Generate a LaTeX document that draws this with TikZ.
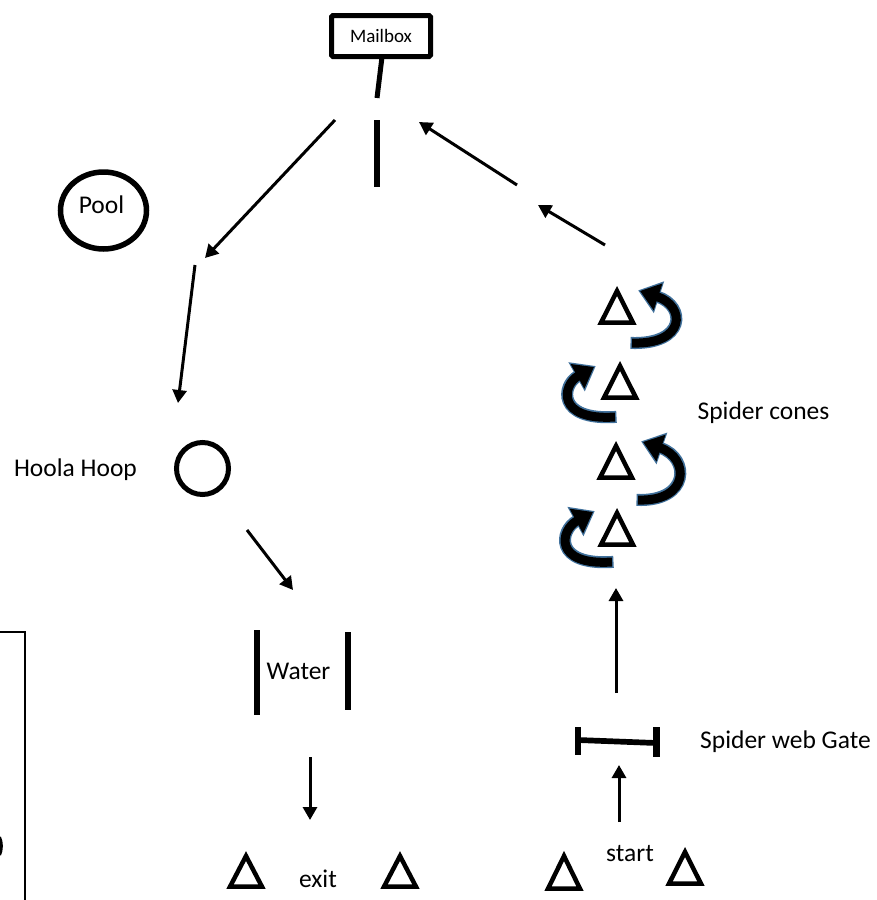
\documentclass[tikz,border=0pt]{standalone}
\usepackage{fontspec}
\setmainfont{Carlito}
\usetikzlibrary{arrows.meta,shapes.geometric}
\definecolor{outlineblue}{RGB}{65,113,156}
\newcommand\conetri[3]{\draw[conestyle] (#1,#2+6) -- (#1+16,#3-2.3) -- (#1-16,#3-2.3) -- cycle;}
\begin{document}
\begin{tikzpicture}[x=1pt,y=-1pt,
  flow/.style={line width=3pt,-{Triangle[length=13pt,width=14pt]}},
  barline/.style={line width=6pt},
  conestyle/.style={line width=4.5pt,line join=miter},
  lbl/.style={font=\fontsize{25.5}{30}\selectfont, inner sep=0pt, anchor=base},
  twirlout/.style={draw=outlineblue, line width=12pt, -{Triangle[length=22pt,width=32pt]}, shorten >=-2pt, shorten <=-1.5pt},
  twirlin/.style={draw=black, line width=9pt, -{Triangle[length=19pt,width=27pt]}}]
\useasboundingbox (0,0) rectangle (877,900);
\clip (0,0) rectangle (877,900);

% mailbox
\node[draw, line width=5pt, rounded corners=1.5pt, minimum width=99pt, minimum height=41pt, inner sep=0pt,
      font=\fontsize{19}{23}\selectfont] (mailbox) at (381,36) {Mailbox};
\coordinate (stemtop) at (382,57);
\coordinate (stembot) at (377,98);
\draw[line width=5pt] (stemtop) -- (stembot);
\coordinate (bartop) at (377,120);
\coordinate (barbot) at (377,187);
\draw[barline] (bartop) -- (barbot);

% pool
\node[ellipse, draw, line width=5.5pt, minimum width=86pt, minimum height=77pt, inner sep=0pt] (pool) at (103.5,210.5) {};
\node[lbl] (pooltext) at (101.5,213) {Pool};

% hoola hoop
\node[circle, draw, line width=5pt, minimum size=52pt, inner sep=0pt] (hoop) at (202.5,468.5) {};
\node[lbl] (hooptext) at (75.5,476) {Hoola Hoop};

% water
\coordinate (wl1) at (257,630); \coordinate (wl2) at (257,715);
\coordinate (wr1) at (347.5,632); \coordinate (wr2) at (347.5,710);
\draw[barline] (wl1) -- (wl2);
\draw[barline] (wr1) -- (wr2);
\node[lbl] (water) at (298.5,679) {Water};

% exit
\conetri{246}{850}{889}
\conetri{400}{850}{889}
\node[lbl] (exit) at (318,887) {exit};

% start
\conetri{564}{850}{891}
\conetri{685}{846}{886}
\node[lbl] (start) at (630,861) {start};

% gate
\coordinate (gl) at (578,740); \coordinate (gr) at (656,743);
\coordinate (gl1) at (578,727); \coordinate (gl2) at (578,755);
\coordinate (gr1) at (656.5,727); \coordinate (gr2) at (656.5,757);
\draw[line width=5.7pt] (gl) -- (gr);
\draw[line width=6.7pt] (gl1) -- (gl2);
\draw[line width=6.7pt] (gr1) -- (gr2);
\node[lbl] (gatetext) at (785.5,748) {Spider web Gate};

% spider cones
\conetri{617}{285}{325}
\conetri{620}{360}{400}
\conetri{616}{440}{480}
\conetri{617}{507}{547}
\node[lbl] (conestext) at (763.5,419) {Spider cones};

% curved arrows
\coordinate (c1s) at (632,343); \coordinate (c1e) at (640,291);
\coordinate (c2s) at (615,417); \coordinate (c2e) at (594,367);
\coordinate (c3s) at (638,500); \coordinate (c3e) at (643,442);
\coordinate (c4s) at (612,562); \coordinate (c4e) at (593,512);
\foreach \st in {twirlout,twirlin}{
  \draw[\st] (c1s) .. controls (686,345) and (686,306) .. (c1e);
  \draw[\st] (c2s) .. controls (556,421) and (562,385) .. (c2e);
  \draw[\st] (c3s) .. controls (690,502) and (690,458) .. (c3e);
  \draw[\st] (c4s) .. controls (553,566) and (560,530) .. (c4e);
}

% straight arrows
\coordinate (a1s) at (335,120); \coordinate (a1e) at (205,258);
\coordinate (a2s) at (195,265); \coordinate (a2e) at (178,403);
\coordinate (a3s) at (247,530); \coordinate (a3e) at (293,590);
\coordinate (a4s) at (310,757); \coordinate (a4e) at (310,820);
\coordinate (a5s) at (619,822); \coordinate (a5e) at (619,765);
\coordinate (a6s) at (616,693); \coordinate (a6e) at (616,588);
\coordinate (a7s) at (605,245); \coordinate (a7e) at (538,205);
\coordinate (a8s) at (517,185); \coordinate (a8e) at (419,122);
\foreach \i in {1,...,8}{\draw[flow] (a\i s) -- (a\i e);}

% left partial box
\coordinate (lb0) at (-5,632); \coordinate (lb1) at (25,632); \coordinate (lb2) at (25,905);
\draw[line width=1.5pt] (lb0) -- (lb1) -- (lb2);
\draw[line width=3pt] (-0.5,837) .. controls (2,842) and (2,850) .. (-0.5,855);
\end{tikzpicture}
\end{document}
